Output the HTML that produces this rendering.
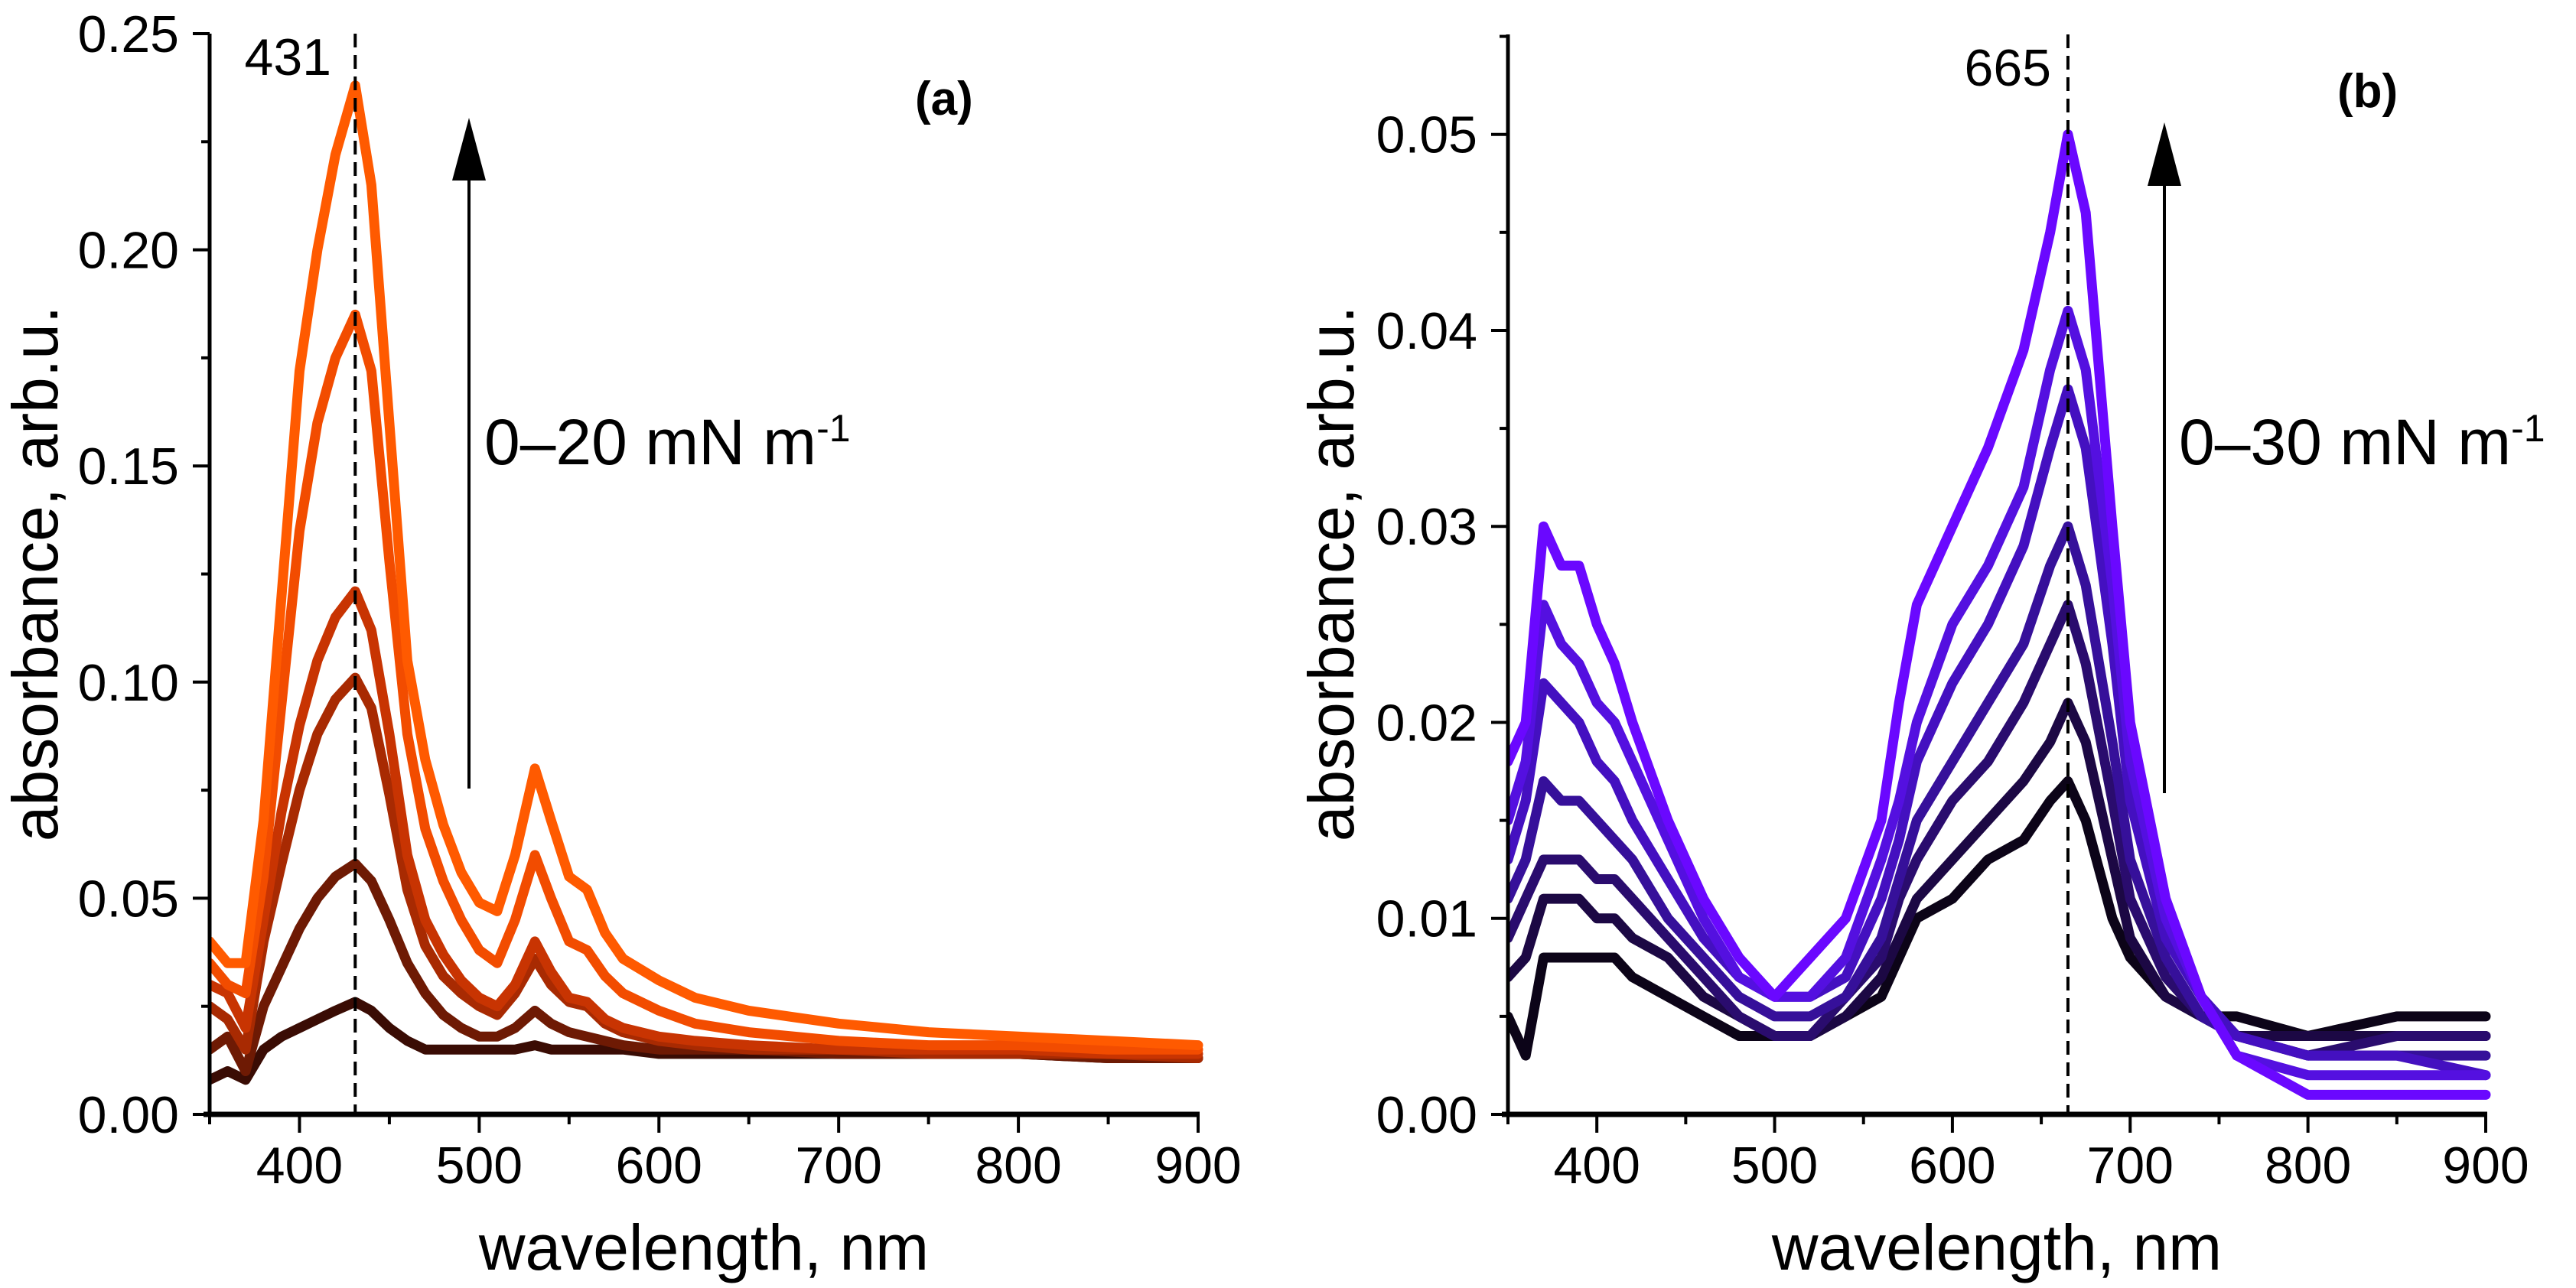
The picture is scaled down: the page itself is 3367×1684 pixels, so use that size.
<!DOCTYPE html>
<html><head><meta charset="utf-8">
<style>
html,body{margin:0;padding:0;background:#fff;}
svg{display:block;font-family:"Liberation Sans",Arial,sans-serif;}
</style></head>
<body>
<svg id="fig" width="3367" height="1684" viewBox="0 0 3367 1684" xmlns="http://www.w3.org/2000/svg">
  <rect x="0" y="0" width="3367" height="1684" fill="#fff"/>
  <defs>
    <clipPath id="clipA"><rect x="274" y="30" width="1300" height="1427"/></clipPath>
    <clipPath id="clipB"><rect x="1971" y="30" width="1285" height="1427"/></clipPath>
  </defs>
  <g id="panelA">
    <g id="seriesA" clip-path="url(#clipA)"></g>
    <g id="axesA"></g>
    <text x="433" y="98" font-size="68" text-anchor="end">431</text>
    <text x="1196" y="150" font-size="62" font-weight="bold">(a)</text>
    <line x1="613" y1="230" x2="613" y2="1031" stroke="#000" stroke-width="4"/>
    <polygon points="613,154 591,236 635,236" fill="#000"/>
    <text x="633" y="607" font-size="84">0–20 mN m<tspan dy="-30" font-size="50">-1</tspan></text>
    <text transform="translate(75,750) rotate(-90)" font-size="84" text-anchor="middle">absorbance, arb.u.</text>
    <text x="920" y="1660" font-size="84" text-anchor="middle">wavelength, nm</text>
  </g>
  <g id="panelB">
    <g id="seriesB" clip-path="url(#clipB)"></g>
    <g id="axesB"></g>
    <text x="2681" y="112" font-size="68" text-anchor="end">665</text>
    <text x="3055" y="140" font-size="62" font-weight="bold">(b)</text>
    <line x1="2829" y1="236" x2="2829" y2="1037" stroke="#000" stroke-width="4"/>
    <polygon points="2829,160 2807,243 2851,243" fill="#000"/>
    <text x="2848" y="607" font-size="84">0–30 mN m<tspan dy="-30" font-size="50">-1</tspan></text>
    <text transform="translate(1769,750) rotate(-90)" font-size="84" text-anchor="middle">absorbance, arb.u.</text>
    <text x="2610" y="1660" font-size="84" text-anchor="middle">wavelength, nm</text>
  </g>
</svg>
<script>
// ---------- Panel A data ----------
const wlA = [350,360,370,380,390,400,410,420,431,440,450,460,470,480,490,500,510,520,531,540,550,560,570,580,600,620,650,700,750,800,850,900];
const a1 = [.008,.010,.008,.015,.018,.020,.022,.024,.026,.024,.020,.017,.015,.015,.015,.015,.015,.015,.016,.015,.015,.015,.015,.015,.014,.014,.014,.014,.014,.014,.013,.013];
const a2 = [.015,.018,.010,.025,.034,.043,.050,.055,.058,.054,.045,.035,.028,.023,.020,.018,.018,.020,.024,.021,.019,.018,.017,.016,.015,.015,.015,.014,.014,.014,.013,.013];
const a3 = [.025,.022,.015,.040,.058,.075,.088,.096,.101,.094,.074,.052,.039,.032,.028,.025,.023,.028,.036,.030,.026,.025,.021,.019,.017,.016,.015,.015,.014,.014,.014,.013];
const a4 = [.030,.028,.020,.045,.070,.090,.105,.115,.121,.112,.088,.060,.045,.037,.031,.027,.025,.030,.040,.033,.027,.026,.022,.020,.018,.017,.016,.015,.015,.015,.014,.014];
const a5 = [.035,.030,.028,.055,.095,.135,.160,.175,.185,.172,.128,.088,.066,.054,.045,.038,.035,.045,.060,.050,.040,.038,.032,.028,.024,.021,.019,.017,.016,.016,.015,.015];
const a6 = [.040,.035,.035,.068,.120,.172,.200,.222,.238,.215,.160,.105,.082,.067,.056,.049,.047,.060,.080,.068,.055,.052,.042,.036,.031,.027,.024,.021,.019,.018,.017,.016];
const seriesA = [a1,a2,a3,a4,a5,a6];
const colorsA = ["#3a0c04","#6e1a04","#a82a02","#c83402","#f24c00","#ff5a00"];
const yTicksA = ["0.00","0.05","0.10","0.15","0.20","0.25"];
const xTicks = ["400","500","600","700","800","900"];

// ---------- Panel B data ----------
const wlB = [350,360,370,380,390,400,410,420,440,460,480,500,520,540,560,570,580,600,620,640,655,665,675,690,700,720,740,760,800,850,900];
const b1 = [.005,.003,.008,.008,.008,.008,.008,.007,.006,.005,.004,.004,.004,.005,.006,.008,.010,.011,.013,.014,.016,.017,.015,.010,.008,.006,.005,.005,.004,.005,.005];
const b2 = [.007,.008,.011,.011,.011,.010,.010,.009,.008,.006,.005,.004,.004,.005,.007,.009,.011,.013,.015,.017,.019,.021,.019,.013,.009,.006,.005,.004,.004,.004,.004];
const b3 = [.009,.011,.013,.013,.013,.012,.012,.011,.009,.007,.005,.004,.004,.006,.008,.011,.013,.016,.018,.021,.024,.026,.023,.016,.011,.007,.005,.004,.003,.004,.004];
const b4 = [.011,.013,.017,.016,.016,.015,.014,.013,.010,.008,.006,.005,.005,.006,.009,.012,.015,.018,.021,.024,.028,.030,.027,.019,.013,.008,.005,.004,.003,.003,.003];
const b5 = [.013,.016,.022,.021,.020,.018,.017,.015,.012,.009,.007,.006,.006,.007,.011,.014,.018,.022,.025,.029,.034,.037,.034,.024,.016,.009,.006,.004,.003,.003,.002];
const b6 = [.015,.018,.026,.024,.023,.021,.020,.018,.014,.010,.007,.006,.006,.008,.013,.016,.020,.025,.028,.032,.038,.041,.038,.027,.018,.010,.006,.003,.002,.002,.002];
const b7 = [.018,.020,.030,.028,.028,.025,.023,.020,.015,.011,.008,.006,.008,.010,.015,.021,.026,.030,.034,.039,.045,.050,.046,.030,.020,.011,.006,.003,.001,.001,.001];
const seriesB = [b1,b2,b3,b4,b5,b6,b7];
const colorsB = ["#0c0418","#1c0844","#2a0c6e","#36109a","#4410c0","#5410e0","#6a08ff"];
const yTicksB = ["0.00","0.01","0.02","0.03","0.04","0.05"];

const NS = "http://www.w3.org/2000/svg";
function mk(tag, attrs, parent){const e=document.createElementNS(NS,tag);for(const k in attrs)e.setAttribute(k,attrs[k]);parent.appendChild(e);return e;}

function panel(cfg){
  const X = v => cfg.x0 + (v-350)/(900-350)*(cfg.x1-cfg.x0);
  const Y = v => cfg.y0 - v/cfg.ymax*(cfg.y0-cfg.ytop);
  const sg = document.getElementById(cfg.seriesId);
  cfg.series.forEach((s,i)=>{
    let d = "";
    cfg.wl.forEach((w,j)=>{ d += (j?"L":"M")+X(w).toFixed(1)+","+Y(s[j]).toFixed(1); });
    const p = mk("path",{d:d,fill:"none",stroke:cfg.colors[i],"stroke-width":13,"stroke-linejoin":"round","stroke-linecap":"round"},sg);
    
    
  });
  const ag = document.getElementById(cfg.axesId);
  const dl = mk("line",{x1:X(cfg.peak),x2:X(cfg.peak),y1:cfg.ytop,y2:cfg.y0,stroke:"#000","stroke-width":4,"stroke-dasharray":"18,10"},ag);
  
  
  const ya = mk("line",{x1:cfg.x0,x2:cfg.x0,y1:cfg.ytop,y2:cfg.y0+3,stroke:"#000","stroke-width":5},ag);
  
  
  const xa = mk("line",{x1:cfg.x0-8,x2:cfg.x1+2,y1:cfg.y0,y2:cfg.y0,stroke:"#000","stroke-width":7},ag);
  
  
  for(let w=350; w<=900; w+=50){
    const major = w%100===0;
    const t = mk("line",{x1:X(w),x2:X(w),y1:cfg.y0,y2:cfg.y0+(major?24:13),stroke:"#000","stroke-width":4},ag);
    
    
  }
  xTicks.forEach(lbl=>{
    const t = mk("text",{x:X(+lbl),y:1547,"font-size":68,"text-anchor":"middle"},ag);
    t.textContent = lbl;
    
    
  });
  const step = +cfg.yTicks[1];
  for(let k=0; k*step/2 <= cfg.ymax+1e-9; k++){
    const v = k*step/2, major = k%2===0;
    const t = mk("line",{x1:cfg.x0-(major?22:11),x2:cfg.x0,y1:Y(v),y2:Y(v),stroke:"#000","stroke-width":4},ag);
    
    
  }
  cfg.yTicks.forEach(lbl=>{
    const t = mk("text",{x:cfg.x0-40,y:Y(+lbl)+24,"font-size":68,"text-anchor":"end"},ag);
    t.textContent = lbl;
    
    
  });
}
panel({prefix:"panel-a",seriesId:"seriesA",axesId:"axesA",x0:274,x1:1566,y0:1457,ytop:44,ymax:0.25,wl:wlA,series:seriesA,colors:colorsA,yTicks:yTicksA,peak:431});
panel({prefix:"panel-b",seriesId:"seriesB",axesId:"axesB",x0:1971,x1:3249,y0:1457,ytop:45,ymax:0.0551,wl:wlB,series:seriesB,colors:colorsB,yTicks:yTicksB,peak:665});
</script>
</body></html>
